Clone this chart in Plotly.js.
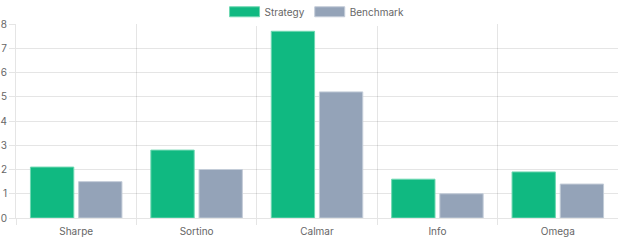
<!DOCTYPE html>
<html>
<head>
<meta charset="utf-8">
<script src="https://cdn.plot.ly/plotly-3.0.1.min.js"></script>
<style>html,body{margin:0;padding:0;background:#fff;}#chart{width:618px;height:240px;}</style>
</head>
<body>
<div id="chart"></div>
<script>
const categories = ["Sharpe", "Sortino", "Calmar", "Info", "Omega"];
const strategyValues = [2.1, 2.8, 7.7, 1.6, 1.9];
const benchmarkValues = [1.5, 2.0, 5.2, 1.0, 1.4];
const seriesNames = ["Strategy", "Benchmark"];
const yTicks = [0, 1, 2, 3, 4, 5, 6, 7, 8];

const grid = "rgba(0,0,0,0.1)";
const traces = [
  {type: "bar", name: seriesNames[0], x: categories, y: strategyValues,
   marker: {color: "#10b981", line: {color: "#6fd8b2", width: 1}}, hoverinfo: "x+y"},
  {type: "bar", name: seriesNames[1], x: categories, y: benchmarkValues,
   marker: {color: "#94a3b8", line: {color: "#c3ccd8", width: 1}}, hoverinfo: "x+y"}
];
const layout = {
  width: 618, height: 240,
  margin: {l: 16, r: 0, t: 24, b: 22, pad: 0, autoexpand: false},
  paper_bgcolor: "#fff", plot_bgcolor: "#fff",
  font: {family: "Inter, Roboto, sans-serif", size: 10, color: "#666"},
  barmode: "group", bargap: 0.2, bargroupgap: 0.1,
  showlegend: true,
  legend: {orientation: "h", x: 0.513, xanchor: "center", xref: "container",
           y: 1.063, yanchor: "middle", yref: "paper",
           font: {size: 10, color: "#666"}, itemwidth: 30, traceorder: "normal"},
  xaxis: {type: "category", tickson: "boundaries", showgrid: true, gridcolor: grid, gridwidth: 1,
          ticks: "outside", ticklen: 6, tickcolor: grid, showline: true, linecolor: grid,
          zeroline: false, fixedrange: true, ticklabelstandoff: 4, automargin: false},
  yaxis: {range: [0, 8], tickvals: yTicks, showgrid: true, gridcolor: grid, ticks: "outside",
          ticklen: 6, tickcolor: grid, showline: true, linecolor: grid, zeroline: false,
          fixedrange: true, ticklabelstandoff: 0, automargin: false}
};
Plotly.newPlot("chart", traces, layout, {displayModeBar: false, staticPlot: true}).then(function(gd){
  gd.querySelectorAll(".legend .legendpoints path").forEach(function(p){
    p.setAttribute("d", "M15,5H-15V-5H15Z");
  });
});
</script>
</body>
</html>
